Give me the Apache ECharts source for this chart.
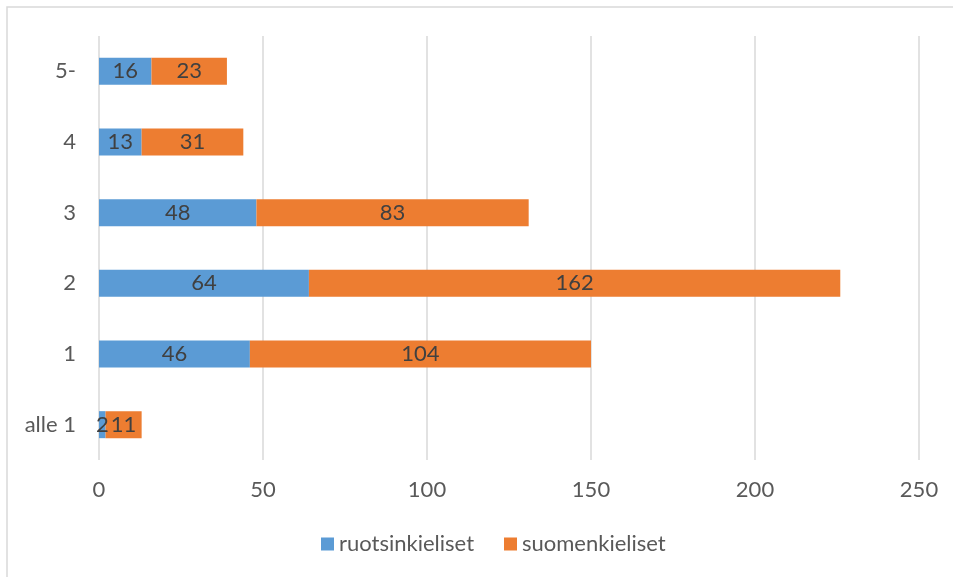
<!DOCTYPE html>
<html lang="fi">
<head>
    <meta charset="UTF-8">
    <script src="https://cdn.jsdelivr.net/npm/echarts@6/dist/echarts.min.js"></script>
    <title>Stacked bars</title>
</head>
<body>
    <style>
        html, body, #main {
            margin: 0;
            width: 953px;
            height: 577px;
            background: #fff;
        }
    </style>
    <div id="main"></div>
    <script>
        var categories = ['alle 1', '1', '2', '3', '4', '5-'];
        var ruotsinkieliset = [2, 46, 64, 48, 13, 16];
        var suomenkieliset = [11, 104, 162, 83, 31, 23];
        var xTicks = [0, 50, 100, 150, 200, 250];

        var font = 'Lato, "Open Sans", sans-serif';
        var chart = echarts.init(document.getElementById('main'));

        chart.setOption({
            animation: false,
            graphic: [{
                type: 'rect',
                shape: { x: 7, y: 7, width: 960, height: 600 },
                style: { fill: 'none', stroke: '#d9d9d9', lineWidth: 1.5 },
                silent: true
            }],
            grid: { left: 99, right: 34, top: 36, bottom: 117 },
            legend: {
                bottom: 17,
                left: 316,
                itemWidth: 13,
                itemHeight: 13,
                itemGap: 30,
                icon: 'rect',
                textStyle: { color: '#595959', fontSize: 22, fontFamily: font },
                data: ['ruotsinkieliset', 'suomenkieliset']
            },
            xAxis: {
                type: 'value',
                min: xTicks[0],
                max: xTicks[xTicks.length - 1],
                interval: 50,
                axisLine: { show: false },
                axisTick: { show: false },
                axisLabel: { color: '#595959', fontSize: 22, fontFamily: font, margin: 19 },
                splitLine: { lineStyle: { color: '#d9d9d9', width: 1.5 } }
            },
            yAxis: {
                type: 'category',
                data: categories,
                axisLine: { show: false },
                axisTick: { show: false },
                axisLabel: { color: '#595959', fontSize: 22, fontFamily: font, margin: 23 }
            },
            series: [{
                name: 'ruotsinkieliset',
                type: 'bar',
                stack: 'total',
                barWidth: 27,
                itemStyle: { color: '#5B9BD5' },
                label: { show: true, position: 'inside', color: '#404040', fontSize: 22, fontFamily: font },
                data: ruotsinkieliset
            }, {
                name: 'suomenkieliset',
                type: 'bar',
                stack: 'total',
                barWidth: 27,
                itemStyle: { color: '#ED7D31' },
                label: { show: true, position: 'inside', color: '#404040', fontSize: 22, fontFamily: font },
                data: suomenkieliset
            }]
        });
    </script>
</body>
</html>
